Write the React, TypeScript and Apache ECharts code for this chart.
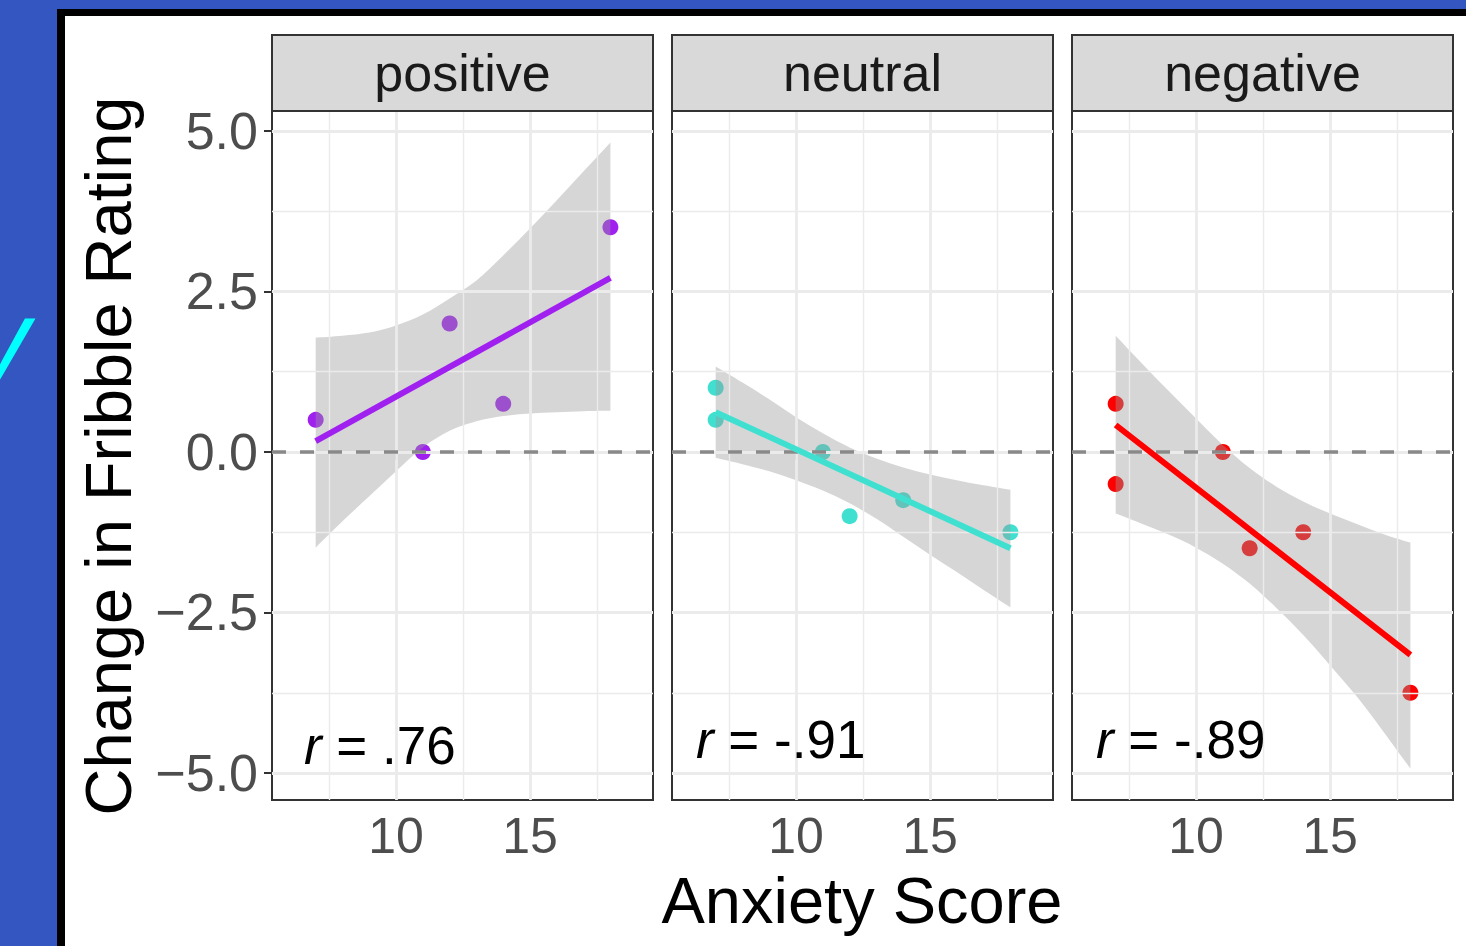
import React, { useEffect, useRef } from "react";
import * as echarts from "echarts";

const FONT = "Liberation Sans, Arial, Helvetica, sans-serif";

// facet panels
const panels = ["positive", "neutral", "negative"];
const colors = ["#A020F0", "#40E0D0", "#FF0000"];
const rLabels = [".76", "-.91", "-.89"];

// raw points
const posX = [7, 11, 12, 14, 18];
const posY = [0.5, 0, 2, 0.75, 3.5];
const neuX = [7, 7, 11, 12, 14, 18];
const neuY = [1, 0.5, 0, -1, -0.75, -1.25];
const negX = [7, 7, 11, 12, 14, 18];
const negY = [0.75, -0.5, 0, -1.5, -1.25, -3.75];

// fitted line end points
const fitX = [7, 18];
const posFit = [0.17, 2.71];
const neuFit = [0.62, -1.5];
const negFit = [0.42, -3.16];

// confidence band
const ribX = [7, 8, 9, 10, 11, 12, 13, 14, 15, 16, 17, 18];
const posUpper = [1.78, 1.81, 1.86, 1.97, 2.14, 2.39, 2.67, 3.06, 3.48, 3.92, 4.37, 4.82];
const posLower = [-1.49, -1.08, -0.69, -0.3, 0.07, 0.33, 0.48, 0.56, 0.6, 0.62, 0.635, 0.64];
const neuUpper = [1.33, 1.08, 0.82, 0.54, 0.29, 0.07, -0.1, -0.24, -0.35, -0.44, -0.52, -0.59];
const neuLower = [-0.09, -0.19, -0.3, -0.44, -0.6, -0.8, -1.04, -1.32, -1.6, -1.87, -2.15, -2.42];
const negUpper = [1.81, 1.37, 0.94, 0.52, 0.11, -0.25, -0.54, -0.77, -0.96, -1.12, -1.28, -1.41];
const negLower = [-0.96, -1.12, -1.29, -1.49, -1.74, -2.05, -2.43, -2.85, -3.32, -3.81, -4.36, -4.93];

// axes
const xMin = 5.37;
const xMax = 19.59;
const yMin = -5.42;
const yMax = 5.31;
const xTicks = [10, 15];
const xTickLabels = ["10", "15"];
const xMinor = [7.5, 12.5, 17.5];
const yTicks = [-5, -2.5, 0, 2.5, 5];
const yTickLabels = ["\u22125.0", "\u22122.5", "0.0", "2.5", "5.0"];
const yMinor = [-3.75, -1.25, 1.25, 3.75];

const pointsX = [posX, neuX, negX];
const pointsY = [posY, neuY, negY];
const fits = [posFit, neuFit, negFit];
const uppers = [posUpper, neuUpper, negUpper];
const lowers = [posLower, neuLower, negLower];

const PANEL_LEFT = [272, 672, 1072];
const PANEL_W = 381;
const PANEL_TOP = 111;
const PANEL_H = 689;
const STRIP_TOP = 35;
const STRIP_H = 76;

// smooth curve segment commands through pixel points (Catmull-Rom as Bezier)
function curveThrough(pts: number[][]): string {
  let d = "";
  for (let i = 0; i < pts.length - 1; i++) {
    const p0 = pts[i - 1] || pts[i];
    const p1 = pts[i];
    const p2 = pts[i + 1];
    const p3 = pts[i + 2] || p2;
    const c1x = p1[0] + (p2[0] - p0[0]) / 6;
    const c1y = p1[1] + (p2[1] - p0[1]) / 6;
    const c2x = p2[0] - (p3[0] - p1[0]) / 6;
    const c2y = p2[1] - (p3[1] - p1[1]) / 6;
    d += ` C ${c1x} ${c1y} ${c2x} ${c2y} ${p2[0]} ${p2[1]}`;
  }
  return d;
}

export default function App() {
  const ref = useRef<HTMLDivElement>(null);

  useEffect(() => {
    if (!ref.current) return;
    const chart = echarts.init(ref.current, undefined, { renderer: "svg" });

    const grids = PANEL_LEFT.map((l) => ({
      left: l,
      top: PANEL_TOP,
      width: PANEL_W,
      height: PANEL_H,
      show: true,
      borderColor: "#333333",
      borderWidth: 2,
      backgroundColor: "transparent",
      containLabel: false,
    }));

    const xAxes = panels.map((_, i) => ({
      type: "value",
      gridIndex: i,
      min: xMin,
      max: xMax,
      axisLine: { show: false },
      splitLine: { show: false },
      axisTick: {
        show: true,
        customValues: xTicks,
        length: 8,
        lineStyle: { color: "#333333", width: 2 },
      },
      axisLabel: {
        show: true,
        customValues: xTicks,
        formatter: (v: number) => xTickLabels[xTicks.indexOf(v)] ?? "",
        color: "#4D4D4D",
        fontSize: 50,
        fontFamily: FONT,
        margin: 11,
      },
    }));

    const yAxes = panels.map((_, i) => ({
      type: "value",
      gridIndex: i,
      min: yMin,
      max: yMax,
      axisLine: { show: false },
      splitLine: { show: false },
      axisTick: {
        show: i === 0,
        customValues: yTicks,
        length: 8,
        lineStyle: { color: "#333333", width: 2 },
      },
      axisLabel: {
        show: i === 0,
        customValues: yTicks,
        formatter: (v: number) => yTickLabels[yTicks.indexOf(v)] ?? "",
        color: "#4D4D4D",
        fontSize: 52,
        fontFamily: FONT,
        margin: 14,
      },
    }));

    const series: any[] = [];
    panels.forEach((_, i) => {
      // grid lines
      series.push({
        type: "line",
        xAxisIndex: i,
        yAxisIndex: i,
        data: [],
        silent: true,
        z: 1,
        markLine: {
          silent: true,
          symbol: ["none", "none"],
          label: { show: false },
          animation: false,
          lineStyle: { color: "#EBEBEB", type: "solid", width: 1.3 },
          data: [
            ...xMinor.map((v) => ({ xAxis: v, lineStyle: { width: 1.4, color: "#EBEBEB", type: "solid" } })),
            ...yMinor.map((v) => ({ yAxis: v, lineStyle: { width: 1.4, color: "#EBEBEB", type: "solid" } })),
            ...xTicks.map((v) => ({ xAxis: v, lineStyle: { width: 2.8, color: "#EBEBEB", type: "solid" } })),
            ...yTicks.map((v) => ({ yAxis: v, lineStyle: { width: 2.8, color: "#EBEBEB", type: "solid" } })),
          ],
        },
      });
      // points
      series.push({
        type: "scatter",
        xAxisIndex: i,
        yAxisIndex: i,
        data: pointsX[i].map((x, k) => [x, pointsY[i][k]]),
        symbolSize: 16,
        itemStyle: { color: colors[i], opacity: 1 },
        z: 2,
        silent: true,
      });
      // zero dashed line
      series.push({
        type: "line",
        xAxisIndex: i,
        yAxisIndex: i,
        data: [],
        z: 3,
        silent: true,
        markLine: {
          silent: true,
          symbol: ["none", "none"],
          label: { show: false },
          animation: false,
          data: [{ yAxis: 0 }],
          lineStyle: { color: "#898989", type: [14, 14], width: 3.5 },
        },
      });
      // ribbon
      const up = uppers[i];
      const lo = lowers[i];
      series.push({
        type: "custom",
        xAxisIndex: i,
        yAxisIndex: i,
        data: [[ribX[0], up[0]]],
        z: 4,
        silent: true,
        renderItem: (params: any, api: any) => {
          const top = ribX.map((x, k) => api.coord([x, up[k]]));
          const bottom = ribX.map((x, k) => api.coord([x, lo[k]])).reverse();
          const d =
            `M ${top[0][0]} ${top[0][1]}` +
            curveThrough(top) +
            ` L ${bottom[0][0]} ${bottom[0][1]}` +
            curveThrough(bottom) +
            " Z";
          return {
            type: "path",
            shape: { pathData: d },
            style: { fill: "rgba(153,153,153,0.4)", stroke: "none" },
          };
        },
      });
      // fitted line
      series.push({
        type: "line",
        xAxisIndex: i,
        yAxisIndex: i,
        data: fitX.map((x, k) => [x, fits[i][k]]),
        showSymbol: false,
        symbol: "none",
        lineStyle: { color: colors[i], width: 6, cap: "butt" },
        z: 5,
        silent: true,
      });
    });

    const graphics: any[] = [];
    panels.forEach((name, i) => {
      graphics.push({
        type: "rect",
        shape: { x: PANEL_LEFT[i], y: STRIP_TOP, width: PANEL_W, height: STRIP_H },
        style: { fill: "#D9D9D9", stroke: "#333333", lineWidth: 2 },
        z: 10,
      });
      graphics.push({
        type: "text",
        x: PANEL_LEFT[i] + PANEL_W / 2,
        y: STRIP_TOP + STRIP_H / 2,
        style: {
          text: name,
          fontSize: 52,
          fontFamily: FONT,
          fill: "#1A1A1A",
          align: "center",
          verticalAlign: "middle",
        },
        z: 11,
      });
    });
    const rPos = [
      [304, 745],
      [696, 739],
      [1096, 739],
    ];
    rLabels.forEach((lab, i) => {
      graphics.push({
        type: "text",
        x: rPos[i][0],
        y: rPos[i][1],
        style: {
          text: "{i|r} = " + lab,
          fontSize: 53,
          fontFamily: FONT,
          fill: "#000000",
          align: "left",
          verticalAlign: "middle",
          rich: {
            i: { fontStyle: "italic", fontSize: 53, fontFamily: FONT, fill: "#000000" },
          },
        },
        z: 11,
      });
    });
    graphics.push({
      type: "text",
      x: 862,
      y: 900,
      style: {
        text: "Anxiety Score",
        fontSize: 65,
        fontFamily: FONT,
        fill: "#000000",
        align: "center",
        verticalAlign: "middle",
      },
      z: 11,
    });
    graphics.push({
      type: "text",
      x: 108,
      y: 456,
      rotation: Math.PI / 2,
      style: {
        text: "Change in Fribble Rating",
        fontSize: 65,
        fontFamily: FONT,
        fill: "#000000",
        align: "center",
        verticalAlign: "middle",
      },
      z: 11,
    });
    graphics.push({
      type: "text",
      x: -24,
      y: 338,
      style: {
        text: "y",
        fontSize: 108,
        fontStyle: "italic",
        fontFamily: FONT,
        fill: "#00FFFF",
        align: "left",
        verticalAlign: "middle",
      },
      z: 11,
    });

    chart.setOption({
      animation: false,
      textStyle: { fontFamily: FONT },
      grid: grids,
      xAxis: xAxes,
      yAxis: yAxes,
      series,
      graphic: graphics,
    });

    return () => chart.dispose();
  }, []);

  return (
    <div
      style={{
        position: "fixed",
        left: 0,
        top: 0,
        width: 1466,
        height: 946,
        background: "#3456C0",
        overflow: "hidden",
      }}
    >
      <div style={{ position: "absolute", left: 57, top: 9, right: 0, bottom: 0, background: "#000000" }} />
      <div style={{ position: "absolute", left: 65, top: 16, right: 0, bottom: 0, background: "#FFFFFF" }} />
      <div ref={ref} style={{ position: "absolute", left: 0, top: 0, width: 1466, height: 946 }} />
    </div>
  );
}
